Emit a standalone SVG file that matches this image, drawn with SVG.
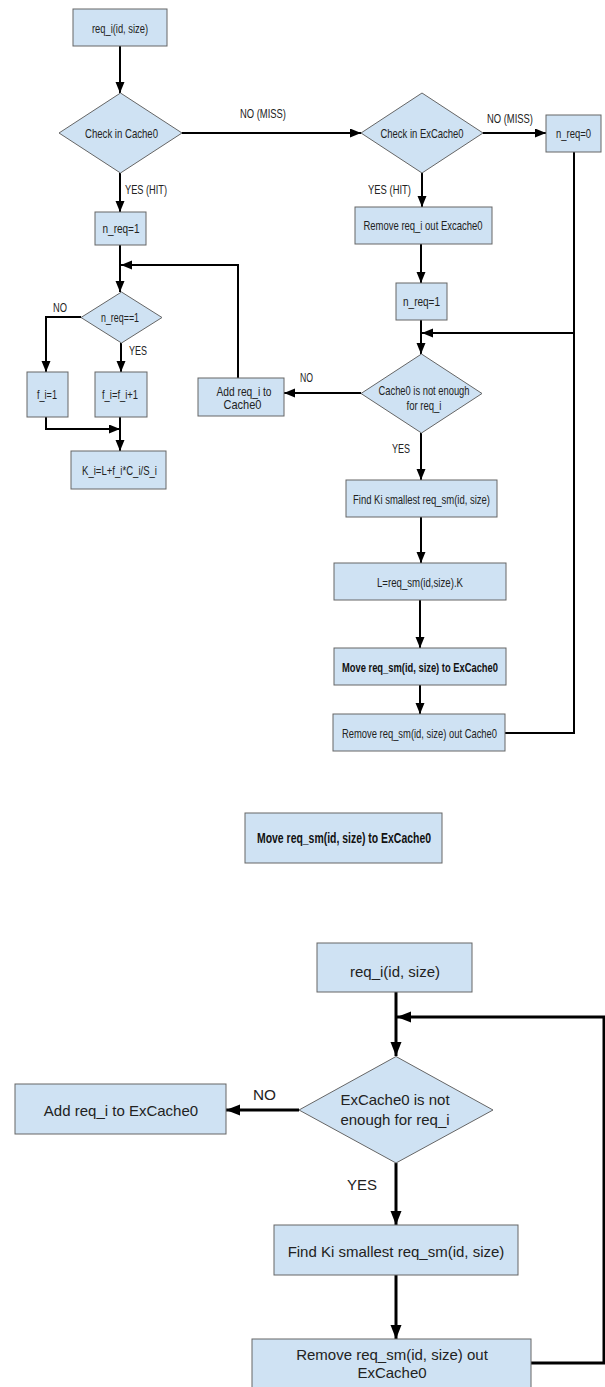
<svg xmlns="http://www.w3.org/2000/svg" width="605" height="1387" viewBox="0 0 605 1387">
<style>
.box{fill:#cfe2f3;stroke:#666;stroke-width:1}
.t{font-family:"Liberation Sans",Arial,sans-serif;font-size:13px;fill:#222;text-anchor:middle}
.s{text-anchor:start}
.bd{font-weight:bold;fill:#111}
.big{font-size:15px}
.c1{fill:none;stroke:#000;stroke-width:2}
.c2{fill:none;stroke:#000;stroke-width:3}
</style>
<defs>
<marker id="a1" markerUnits="userSpaceOnUse" markerWidth="12" markerHeight="10" refX="11" refY="4.5" orient="auto"><path d="M0,0 L11,4.5 L0,9 z" fill="#000"/></marker>
<marker id="a2" markerUnits="userSpaceOnUse" markerWidth="15" markerHeight="12" refX="14" refY="5.5" orient="auto"><path d="M0,0 L14,5.5 L0,11 z" fill="#000"/></marker>
</defs>

<g id="connectors">
<path class="c1" d="M120,46 V93" marker-end="url(#a1)"/>
<path class="c1" d="M182,133 H361" marker-end="url(#a1)"/>
<path class="c1" d="M120,173 V212" marker-end="url(#a1)"/>
<path class="c1" d="M120,245 V292" marker-end="url(#a1)"/>
<path class="c1" d="M238,378 V265 H121" marker-end="url(#a1)"/>
<path class="c1" d="M81,317 H46 V372" marker-end="url(#a1)"/>
<path class="c1" d="M121,343 V372" marker-end="url(#a1)"/>
<path class="c1" d="M46,417 V429 H120" marker-end="url(#a1)"/>
<path class="c1" d="M120,417 V451" marker-end="url(#a1)"/>
<path class="c1" d="M483,133 H546" marker-end="url(#a1)"/>
<path class="c1" d="M422,173 V207" marker-end="url(#a1)"/>
<path class="c1" d="M421,244 V283" marker-end="url(#a1)"/>
<path class="c1" d="M574,152 V733 H505"/>
<path class="c1" d="M574,333 H422" marker-end="url(#a1)"/>
<path class="c1" d="M421,320 V354" marker-end="url(#a1)"/>
<path class="c1" d="M361,393 H284" marker-end="url(#a1)"/>
<path class="c1" d="M421,433 V480" marker-end="url(#a1)"/>
<path class="c1" d="M421,517 V563" marker-end="url(#a1)"/>
<path class="c1" d="M420,600 V648" marker-end="url(#a1)"/>
<path class="c1" d="M420,685 V714" marker-end="url(#a1)"/>

<path class="c2" d="M396,992 V1056" marker-end="url(#a2)"/>
<path class="c2" d="M531,1363 H604 V1017 H397" marker-end="url(#a2)"/>
<path class="c2" d="M299,1110 H226" marker-end="url(#a2)"/>
<path class="c2" d="M396,1163 V1225" marker-end="url(#a2)"/>
<path class="c2" d="M396,1275 V1339" marker-end="url(#a2)"/>

<text class="t s" x="240" y="118" textLength="46" lengthAdjust="spacingAndGlyphs">NO (MISS)</text>
<text class="t s" x="125" y="194" textLength="42" lengthAdjust="spacingAndGlyphs">YES (HIT)</text>
<text class="t s" x="487" y="123" textLength="46" lengthAdjust="spacingAndGlyphs">NO (MISS)</text>
<text class="t s" x="368" y="194" textLength="43" lengthAdjust="spacingAndGlyphs">YES (HIT)</text>
<text class="t s" x="53" y="312" textLength="14" lengthAdjust="spacingAndGlyphs">NO</text>
<text class="t s" x="129" y="355" textLength="18" lengthAdjust="spacingAndGlyphs">YES</text>
<text class="t s" x="300" y="382" textLength="13" lengthAdjust="spacingAndGlyphs">NO</text>
<text class="t s" x="392" y="453" textLength="18" lengthAdjust="spacingAndGlyphs">YES</text>
<text class="t s big" x="253" y="1100" textLength="23" lengthAdjust="spacingAndGlyphs">NO</text>
<text class="t s big" x="347" y="1190" textLength="30" lengthAdjust="spacingAndGlyphs">YES</text>
</g>

<g id="req_i">
<rect class="box" x="73" y="9" width="94" height="37"/>
<text class="t" x="120" y="32.5" textLength="56" lengthAdjust="spacingAndGlyphs">req_i(id, size)</text>
</g>
<g id="check_cache0">
<polygon class="box" points="120.5,93 182,133 120.5,173 59,133"/>
<text class="t" x="121.5" y="137.5" textLength="73" lengthAdjust="spacingAndGlyphs">Check in Cache0</text>
</g>
<g id="n_req1_left">
<rect class="box" x="95" y="212" width="51" height="33"/>
<text class="t" x="121" y="233" textLength="37" lengthAdjust="spacingAndGlyphs">n_req=1</text>
</g>
<g id="n_req_eq1">
<polygon class="box" points="121.5,292 162,317.5 121.5,343 81,317.5"/>
<text class="t" x="120" y="322" textLength="38" lengthAdjust="spacingAndGlyphs">n_req==1</text>
</g>
<g id="f_i1">
<rect class="box" x="27" y="372" width="41" height="45"/>
<text class="t" x="47" y="399" textLength="20" lengthAdjust="spacingAndGlyphs">f_i=1</text>
</g>
<g id="f_i_inc">
<rect class="box" x="95" y="372" width="52" height="45"/>
<text class="t" x="120" y="399" textLength="36" lengthAdjust="spacingAndGlyphs">f_i=f_i+1</text>
</g>
<g id="k_i">
<rect class="box" x="71" y="451" width="95" height="38"/>
<text class="t" x="119.5" y="474.5" textLength="75" lengthAdjust="spacingAndGlyphs">K_i=L+f_i*C_i/S_i</text>
</g>
<g id="add_cache0">
<rect class="box" x="198" y="378" width="86" height="38"/>
<text class="t" x="244" y="396" textLength="55" lengthAdjust="spacingAndGlyphs">Add req_i to</text>
<text class="t" x="242.5" y="409" textLength="38" lengthAdjust="spacingAndGlyphs">Cache0</text>
</g>
<g id="check_excache0">
<polygon class="box" points="422,93 483,133 422,173 361,133"/>
<text class="t" x="422" y="137.5" textLength="83" lengthAdjust="spacingAndGlyphs">Check in ExCache0</text>
</g>
<g id="n_req0">
<rect class="box" x="546" y="115" width="55" height="37"/>
<text class="t" x="573.5" y="138" textLength="35" lengthAdjust="spacingAndGlyphs">n_req=0</text>
</g>
<g id="remove_excache0">
<rect class="box" x="355" y="207" width="137" height="37"/>
<text class="t" x="423" y="230" textLength="119" lengthAdjust="spacingAndGlyphs">Remove req_i out Excache0</text>
</g>
<g id="n_req1_right">
<rect class="box" x="396" y="283" width="51" height="37"/>
<text class="t" x="421.5" y="306" textLength="37" lengthAdjust="spacingAndGlyphs">n_req=1</text>
</g>
<g id="cache0_not_enough">
<polygon class="box" points="421.5,354 482,393.5 421.5,433 361,393.5"/>
<text class="t" x="424" y="394.5" textLength="91" lengthAdjust="spacingAndGlyphs">Cache0 is not enough</text>
<text class="t" x="424" y="410" textLength="35" lengthAdjust="spacingAndGlyphs">for req_i</text>
</g>
<g id="find_ki">
<rect class="box" x="346" y="480" width="151" height="37"/>
<text class="t" x="421.5" y="503.5" textLength="137" lengthAdjust="spacingAndGlyphs">Find Ki smallest req_sm(id, size)</text>
</g>
<g id="set_l">
<rect class="box" x="334" y="563" width="172" height="37"/>
<text class="t" x="420" y="586.5" textLength="86" lengthAdjust="spacingAndGlyphs">L=req_sm(id,size).K</text>
</g>
<g id="move_sm">
<rect class="box" x="334" y="648" width="172" height="37"/>
<text class="t bd" x="420" y="671.5" textLength="156" lengthAdjust="spacingAndGlyphs">Move req_sm(id, size) to ExCache0</text>
</g>
<g id="remove_sm_cache0">
<rect class="box" x="333" y="714" width="172" height="37"/>
<text class="t" x="419.5" y="737.5" textLength="155" lengthAdjust="spacingAndGlyphs">Remove req_sm(id, size) out Cache0</text>
</g>

<g id="move_title">
<rect class="box" x="245" y="813" width="197" height="50"/>
<text class="t bd" x="344" y="843" style="font-size:15px" textLength="174" lengthAdjust="spacingAndGlyphs">Move req_sm(id, size) to ExCache0</text>
</g>

<g id="b_req_i">
<rect class="box" x="317" y="943" width="155" height="49"/>
<text class="t big" x="395" y="977">req_i(id, size)</text>
</g>
<g id="b_excache0_not_enough">
<polygon class="box" points="396,1056.5 493,1110 396,1163 299,1110"/>
<text class="t big" x="395" y="1105">ExCache0 is not</text>
<text class="t big" x="395" y="1125">enough for req_i</text>
</g>
<g id="b_add_excache0">
<rect class="box" x="15" y="1084" width="211" height="50"/>
<text class="t big" x="121" y="1116">Add req_i to ExCache0</text>
</g>
<g id="b_find_ki">
<rect class="box" x="274" y="1225" width="244" height="50"/>
<text class="t big" x="396" y="1257">Find Ki smallest req_sm(id, size)</text>
</g>
<g id="b_remove_sm">
<rect class="box" x="252" y="1339" width="279" height="60"/>
<text class="t big" x="392" y="1360">Remove req_sm(id, size) out</text>
<text class="t big" x="392" y="1378">ExCache0</text>
</g>
</svg>
